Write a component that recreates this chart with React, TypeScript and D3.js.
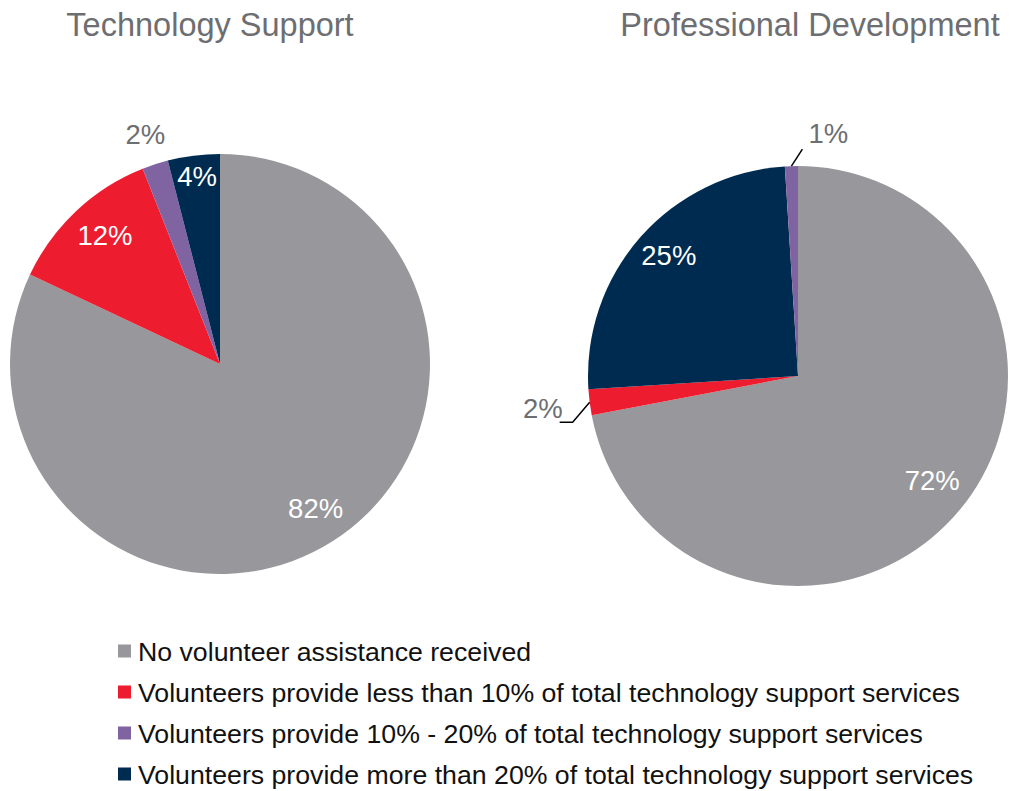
import * as d3 from "d3";

// categories and colours
const categories = [
  "No volunteer assistance received",
  "Volunteers provide less than 10% of total technology support services",
  "Volunteers provide 10% - 20% of total technology support services",
  "Volunteers provide more than 20% of total technology support services",
];
const colors = ["#98979c", "#ed1c2e", "#8064a2", "#002b50"];

// values per chart, in clockwise drawing order (index into categories)
const techOrder = [0, 1, 2, 3];
const techValues = [82, 12, 2, 4];
const profOrder = [0, 1, 3, 2];
const profValues = [72, 2, 25, 1];

const titles = ["Technology Support", "Professional Development"];

const W = 1013;
const H = 791;
const R = 210;
const font = "'Liberation Sans', Arial, Helvetica, sans-serif";
const gray = "#6d6e71";

type Slice = { cat: number; value: number };

// label placement: radius factor; "out" = gray outside; leader = "left" | "up"
const techLabels = [
  { r: 0.85 },
  { r: 0.8 },
  { r: 1.15, out: true },
  { r: 0.87 },
];
const profLabels = [
  { r: 0.83 },
  { r: 1, out: true, leader: "left" },
  { r: 0.82 },
  { r: 1, out: true, leader: "up" },
];

function Pie({ cx, cy, order, values, labels, title, titleX }: any) {
  const data: Slice[] = order.map((c: number, i: number) => ({ cat: c, value: values[i] }));
  const pie = d3.pie<Slice>().value((d) => d.value).sort(null);
  const arcs = pie(data);
  const arc = d3.arc<d3.PieArcDatum<Slice>>().innerRadius(0).outerRadius(R);
  return (
    <g>
      <text x={titleX} y={36} textAnchor="middle" fontFamily={font} fontSize={32.5} fill={gray}>
        {title}
      </text>
      <g transform={`translate(${cx},${cy})`}>
        {arcs.map((a, i) => (
          <path key={i} d={arc(a) || ""} fill={colors[a.data.cat]} />
        ))}
        {arcs.map((a, i) => {
          const lab = labels[i];
          const mid = (a.startAngle + a.endAngle) / 2;
          const x = Math.sin(mid) * R * lab.r;
          const y = -Math.cos(mid) * R * lab.r;
          const txt = `${a.data.value}%`;
          if (!lab.leader) {
            return (
              <text key={i} x={x} y={y} dy={lab.out ? "0.35em" : "0.12em"} textAnchor="middle" fontFamily={font} fontSize={27.5}
                fill={lab.out ? gray : "#ffffff"}>
                {txt}
              </text>
            );
          }
          // leader line from arc edge outward
          let pts: [number, number][];
          let tx: number, ty: number, anchor: string;
          if (lab.leader === "left") {
            const kx = x - 17;
            const ky = y + 20;
            pts = [[x, y], [kx, ky], [kx - 13, ky]];
            tx = kx - 10; ty = ky - 14; anchor = "end";
          } else {
            const kx = x + 11;
            const ky = y - 17;
            pts = [[x, y], [kx, ky]];
            tx = kx + 6; ty = ky - 16; anchor = "start";
          }
          return (
            <g key={i}>
              <path d={d3.line()(pts) || ""} fill="none" stroke="#000" strokeWidth={1.5} />
              <text x={tx} y={ty} dy="0.35em" textAnchor={anchor} fontFamily={font} fontSize={27.5} fill={gray}>
                {txt}
              </text>
            </g>
          );
        })}
      </g>
    </g>
  );
}

export default function App() {
  const legendY = d3.scaleBand<number>().domain([0, 1, 2, 3]).range([631, 795]);
  return (
    <svg width={W} height={H} style={{ position: "absolute", left: 0, top: 0, background: "#fff" }}>
      <rect width={W} height={H} fill="#fff" />
      <Pie cx={220} cy={364} order={techOrder} values={techValues} labels={techLabels} title={titles[0]} titleX={210} />
      <Pie cx={798} cy={376} order={profOrder} values={profValues} labels={profLabels} title={titles[1]} titleX={810} />
      <g>
        {categories.map((c, i) => {
          const y = (legendY(i) || 0) + legendY.bandwidth() / 2;
          return (
            <g key={i}>
              <rect x={118} y={y - 7} width={13} height={13} fill={colors[i]} />
              <text x={138} y={y} dy="0.35em" fontFamily={font} fontSize={26.7} fill="#111">
                {c}
              </text>
            </g>
          );
        })}
      </g>
    </svg>
  );
}
